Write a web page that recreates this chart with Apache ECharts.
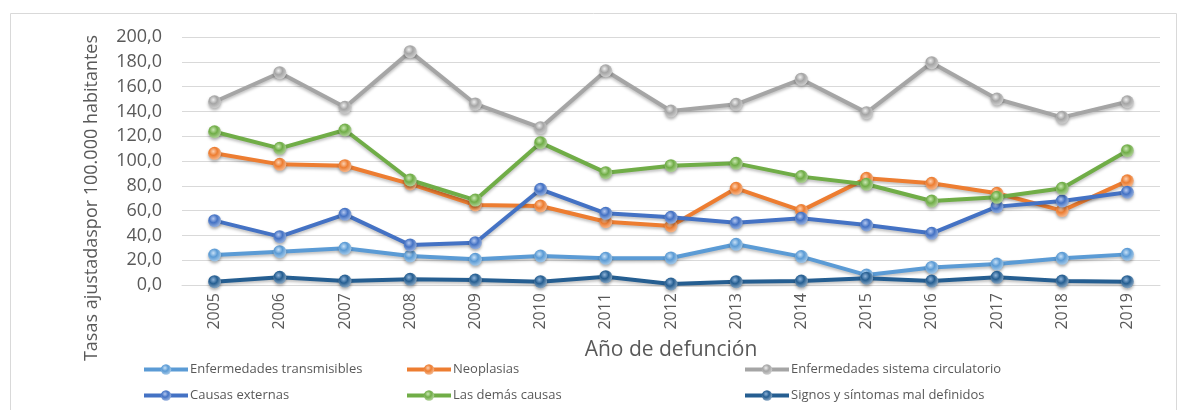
<!DOCTYPE html>
<html>
<head>
<meta charset="utf-8">
<script src="https://cdn.jsdelivr.net/npm/echarts@6/dist/echarts.min.js"></script>
<style>
  html, body { margin: 0; padding: 0; background: #fff; }
  #chart { width: 1186px; height: 410px; }
</style>
</head>
<body>
<div id="chart"></div>
<script>
var years = ['2005', '2006', '2007', '2008', '2009', '2010', '2011', '2012', '2013', '2014', '2015', '2016', '2017', '2018', '2019'];

var transmisibles = [24.2, 26.9, 29.6, 23.4, 20.7, 23.4, 21.5, 21.8, 32.8, 22.9, 8.0, 14.2, 16.9, 21.5, 24.7];
var neoplasias = [106.2, 97.3, 96.2, 81.5, 64.5, 63.7, 51.0, 47.6, 78.0, 60.0, 86.0, 82.0, 74.0, 60.0, 84.0];
var circulatorio = [147.8, 171.2, 143.3, 188.2, 146.0, 126.9, 172.8, 140.3, 145.7, 166.0, 139.0, 179.3, 150.0, 135.2, 147.8];
var externas = [51.9, 39.0, 57.0, 32.3, 34.1, 77.2, 57.8, 54.6, 50.2, 53.8, 48.4, 41.7, 63.2, 67.7, 74.8];
var demasCausas = [123.6, 110.2, 125.0, 84.7, 68.5, 114.8, 90.6, 96.2, 98.1, 87.4, 81.2, 67.7, 70.7, 78.0, 108.3];
var malDefinidos = [2.7, 6.2, 3.2, 4.6, 4.0, 2.7, 6.7, 0.8, 2.7, 3.2, 5.5, 3.2, 6.2, 3.2, 2.7];

var seriesNames = ['Enfermedades transmisibles', 'Neoplasias', 'Enfermedades sistema circulatorio',
  'Causas externas', 'Las demás causas', 'Signos y síntomas mal definidos'];
var seriesData = [transmisibles, neoplasias, circulatorio, externas, demasCausas, malDefinidos];
var colors = ['#5b9bd5', '#ed7d31', '#a5a5a5', '#4472c4', '#70ad47', '#255e91'];
var highlights = ['#c6e0f7', '#fcd0b0', '#eeeeee', '#b4c8f0', '#cbe8b4', '#8fb4da'];

var font = '"Open Sans", sans-serif';
var textColor = '#595959';

// shaded "ball" fill for the markers
function ball(i) {
  return {
    type: 'radial', x: 0.4, y: 0.35, r: 0.62,
    colorStops: [
      { offset: 0, color: highlights[i] },
      { offset: 0.5, color: colors[i] },
      { offset: 1, color: echarts.color.lift(colors[i], 0.4) }
    ]
  };
}

var series = seriesData.map(function (d, i) {
  return {
    name: seriesNames[i],
    type: 'line',
    data: d,
    symbol: 'circle',
    symbolSize: 13,
    z: i === 5 ? 3 : 2,
    lineStyle: {
      width: 4,
      color: colors[i],
      shadowColor: 'rgba(0,0,0,0.25)',
      shadowBlur: 3,
      shadowOffsetY: 2
    },
    itemStyle: {
      color: ball(i),
      shadowColor: 'rgba(0,0,0,0.3)',
      shadowBlur: 3,
      shadowOffsetY: 2
    },
    emphasis: { disabled: true }
  };
});

function legendCol(left, names) {
  return {
    orient: 'vertical',
    left: left,
    top: 358,
    itemGap: 13,
    itemWidth: 44,
    itemHeight: 13,
    data: names,
    lineStyle: { width: 4, shadowBlur: 0, shadowOffsetY: 0 },
    itemStyle: { shadowBlur: 0, shadowOffsetY: 0 },
    textStyle: { color: textColor, fontFamily: font, fontSize: 13, padding: [0, 0, 0, -3] }
  };
}

var chart = echarts.init(document.getElementById('chart'));
chart.setOption({
  animation: false,
  color: colors,
  graphic: [
    {
      type: 'rect',
      shape: { x: 10.5, y: 13.5, width: 1166, height: 420 },
      style: { fill: 'none', stroke: '#d9d9d9', lineWidth: 1 },
      silent: true
    },
    {
      type: 'text',
      x: 92,
      y: 198,
      rotation: Math.PI / 2,
      style: {
        text: 'Tasas ajustadaspor 100.000 habitantes',
        fill: textColor,
        font: '18px ' + font,
        align: 'center',
        verticalAlign: 'middle'
      },
      silent: true
    }
  ],
  legend: [
    legendCol(137, [seriesNames[0], seriesNames[3]]),
    legendCol(400, [seriesNames[1], seriesNames[4]]),
    legendCol(738, [seriesNames[2], seriesNames[5]])
  ],
  grid: { left: 182, right: 26, top: 37, bottom: 125 },
  xAxis: {
    type: 'category',
    data: years,
    boundaryGap: true,
    name: 'Año de defunción',
    nameLocation: 'middle',
    nameGap: 55,
    nameTextStyle: { color: textColor, fontFamily: font, fontSize: 21 },
    axisLine: { lineStyle: { color: '#d9d9d9', width: 1 } },
    axisTick: { show: false },
    axisLabel: { rotate: 90, margin: 8, color: textColor, fontFamily: font, fontSize: 16 }
  },
  yAxis: {
    type: 'value',
    min: 0,
    max: 200,
    interval: 20,
    axisLine: { show: false },
    axisTick: { show: false },
    splitLine: { lineStyle: { color: '#d9d9d9', width: 1 } },
    axisLabel: {
      margin: 20,
      color: textColor,
      fontFamily: font,
      fontSize: 18,
      formatter: function (v) { return v.toFixed(1).replace('.', ','); }
    }
  },
  series: series
});
</script>
</body>
</html>
